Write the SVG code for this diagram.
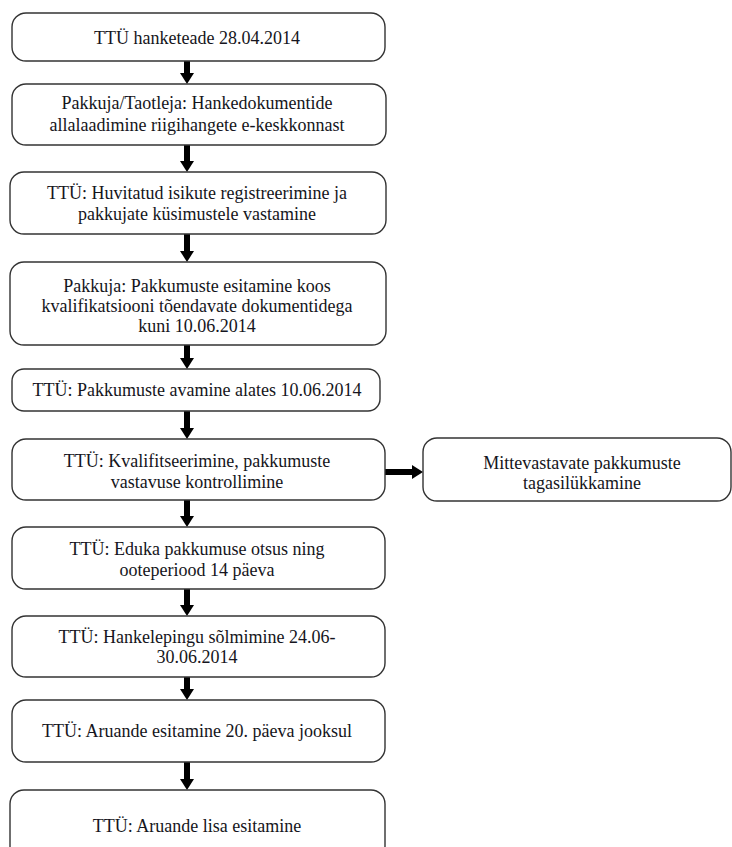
<svg xmlns="http://www.w3.org/2000/svg" width="732" height="847" viewBox="0 0 732 847">
<style>
.box{fill:#fff;stroke:#333;stroke-width:1.4}
.t{font-family:'Liberation Serif','Tinos','Times New Roman','DejaVu Serif',serif;font-size:18px;fill:#151520;text-anchor:middle}
.c{stroke:#000;stroke-width:6;fill:none}
</style>
<defs>
<marker id="ah" markerUnits="userSpaceOnUse" markerWidth="11" markerHeight="14" refX="0" refY="7" orient="auto" viewBox="0 0 11 14">
<path d="M0,0 L11,7 L0,14 z" fill="#000"/>
</marker>
</defs>
<rect width="732" height="847" fill="#fff"/>
<g id="connectors">
<line class="c" x1="187" y1="61" x2="187" y2="73" marker-end="url(#ah)"/>
<line class="c" x1="187" y1="145" x2="187" y2="161" marker-end="url(#ah)"/>
<line class="c" x1="187" y1="234" x2="187" y2="251" marker-end="url(#ah)"/>
<line class="c" x1="187" y1="345" x2="187" y2="358" marker-end="url(#ah)"/>
<line class="c" x1="187" y1="411" x2="187" y2="428" marker-end="url(#ah)"/>
<line class="c" x1="385" y1="472" x2="412" y2="472" marker-end="url(#ah)"/>
<line class="c" x1="187" y1="500" x2="187" y2="516" marker-end="url(#ah)"/>
<line class="c" x1="187" y1="589" x2="187" y2="605" marker-end="url(#ah)"/>
<line class="c" x1="187" y1="677" x2="187" y2="689" marker-end="url(#ah)"/>
<line class="c" x1="187" y1="762" x2="187" y2="779" marker-end="url(#ah)"/>
</g>
<g id="n1"><rect class="box" x="12" y="13" width="373" height="48" rx="14"/>
<text class="t" x="197" y="44" font-family="Liberation Serif, serif">TTÜ hanketeade 28.04.2014</text></g>
<g id="n2"><rect class="box" x="12" y="84" width="374" height="61" rx="14"/>
<text class="t" x="197" y="109">Pakkuja/Taotleja: Hankedokumentide</text>
<text class="t" x="197" y="131">allalaadimine riigihangete e-keskkonnast</text></g>
<g id="n3"><rect class="box" x="10" y="172" width="376" height="62" rx="14"/>
<text class="t" x="197" y="199">TTÜ: Huvitatud isikute registreerimine ja</text>
<text class="t" x="197" y="220">pakkujate küsimustele vastamine</text></g>
<g id="n4"><rect class="box" x="10" y="262" width="376" height="83" rx="14"/>
<text class="t" x="197" y="292">Pakkuja: Pakkumuste esitamine koos</text>
<text class="t" x="197" y="312">kvalifikatsiooni tõendavate dokumentidega</text>
<text class="t" x="197" y="332">kuni 10.06.2014</text></g>
<g id="n5"><rect class="box" x="12" y="369" width="368" height="42" rx="12"/>
<text class="t" x="197" y="396">TTÜ: Pakkumuste avamine alates 10.06.2014</text></g>
<g id="n6"><rect class="box" x="12" y="439" width="373" height="61" rx="14"/>
<text class="t" x="197" y="467">TTÜ: Kvalifitseerimine, pakkumuste</text>
<text class="t" x="197" y="488">vastavuse kontrollimine</text></g>
<g id="n7"><rect class="box" x="423" y="438" width="308" height="63" rx="14"/>
<text class="t" x="582" y="469">Mittevastavate pakkumuste</text>
<text class="t" x="582" y="489">tagasilükkamine</text></g>
<g id="n8"><rect class="box" x="12" y="527" width="373" height="62" rx="14"/>
<text class="t" x="197" y="555">TTÜ: Eduka pakkumuse otsus ning</text>
<text class="t" x="197" y="576">ooteperiood 14 päeva</text></g>
<g id="n9"><rect class="box" x="12" y="616" width="373" height="61" rx="14"/>
<text class="t" x="197" y="643">TTÜ: Hankelepingu sõlmimine 24.06-</text>
<text class="t" x="197" y="663">30.06.2014</text></g>
<g id="n10"><rect class="box" x="12" y="700" width="373" height="62" rx="14"/>
<text class="t" x="197" y="737">TTÜ: Aruande esitamine 20. päeva jooksul</text></g>
<g id="n11"><rect class="box" x="10" y="790" width="375" height="70" rx="14"/>
<text class="t" x="197" y="832">TTÜ: Aruande lisa esitamine</text></g>
</svg>
